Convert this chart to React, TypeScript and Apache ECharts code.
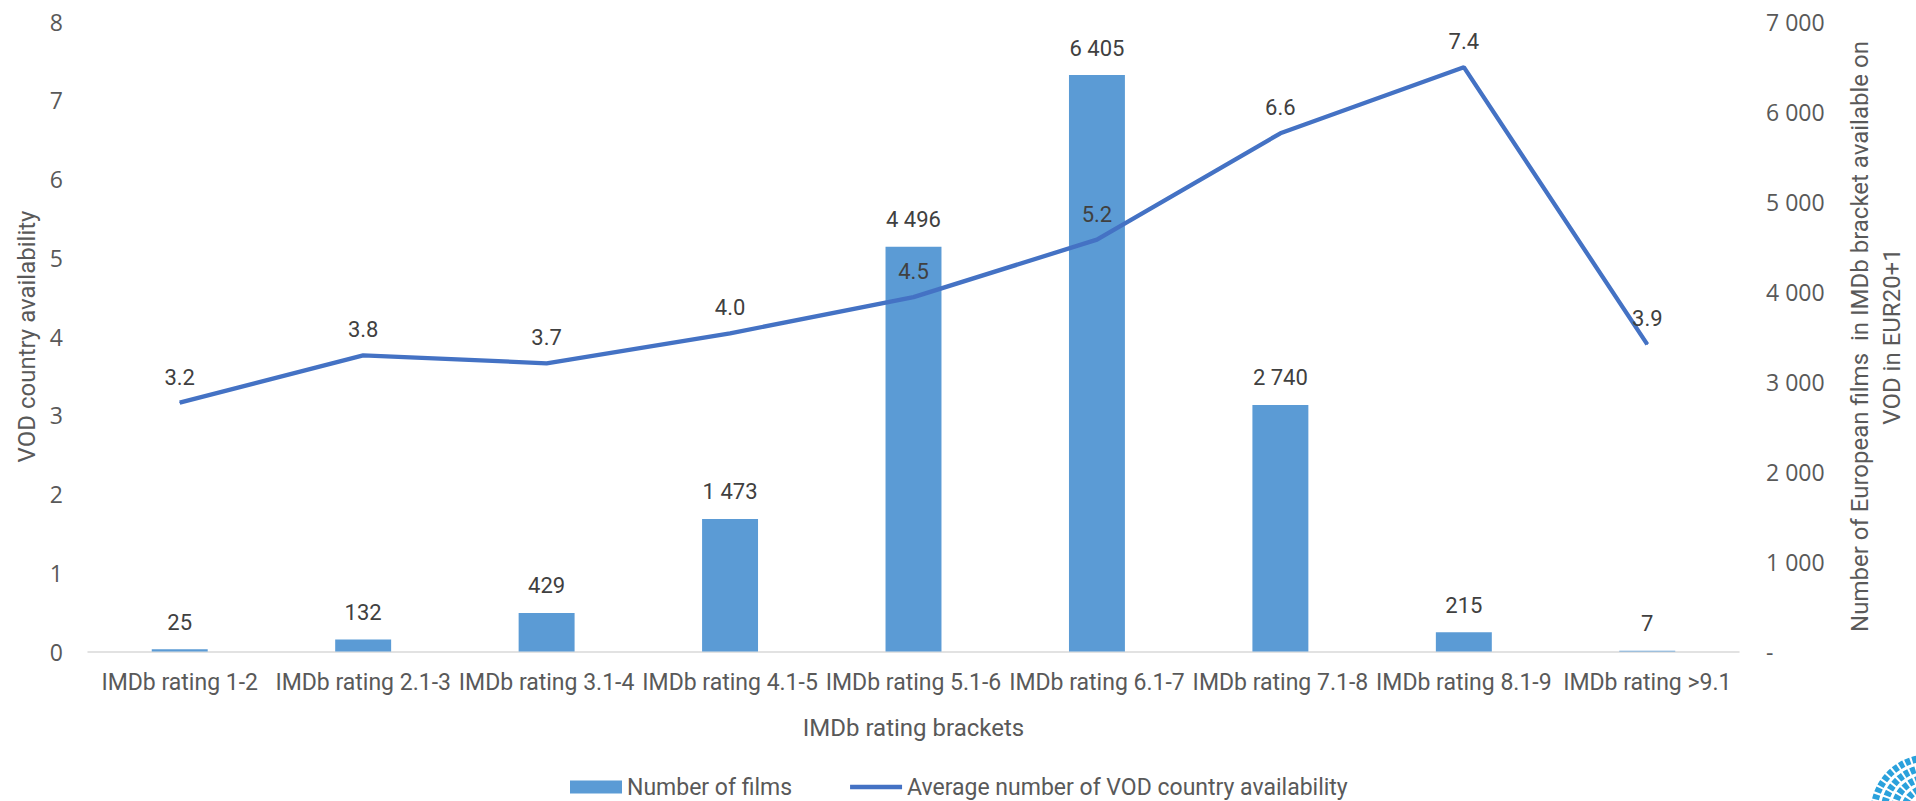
import React, { useEffect, useRef } from "react";
import * as echarts from "echarts";

const categories = [
  "IMDb rating 1-2",
  "IMDb rating 2.1-3",
  "IMDb rating 3.1-4",
  "IMDb rating 4.1-5",
  "IMDb rating 5.1-6",
  "IMDb rating 6.1-7",
  "IMDb rating 7.1-8",
  "IMDb rating 8.1-9",
  "IMDb rating >9.1",
];
const filmCounts = [25, 132, 429, 1473, 4496, 6405, 2740, 215, 7];
const vodAvailability = [3.16, 3.76, 3.66, 4.04, 4.5, 5.23, 6.58, 7.42, 3.9];
const leftTicks = { min: 0, max: 8, interval: 1 };
const rightTicks = { min: 0, max: 7000, interval: 1000 };
const logoRings = [54, 44, 34, 24];

const fmtSpace = (v: number) =>
  v === 0 ? "-" : String(Math.round(v)).replace(/\B(?=(\d{3})+(?!\d))/g, " ");

const TXT = "Roboto, 'Noto Sans', sans-serif";
const TICK = "'Open Sans', 'Noto Sans', sans-serif";

export default function App() {
  const ref = useRef<HTMLDivElement>(null);
  useEffect(() => {
    document.body.style.margin = "0";
    if (!ref.current) return;
    const chart = echarts.init(ref.current, undefined, { renderer: "svg" });
    chart.setOption({
      animation: false,
      backgroundColor: "#ffffff",
      grid: { left: 88, right: 177, top: 21.5, bottom: 149.5 },
      legend: {
        left: 570,
        top: 775,
        padding: 0,
        itemWidth: 52,
        itemHeight: 13,
        itemGap: 58,
        textStyle: { fontFamily: TXT, fontSize: 23, lineHeight: 24, color: "#595959" },
        data: [
          { name: "Number of films", icon: "rect" },
          {
            name: "Average number of VOD country availability",
            icon: "path://M0,0L56,0L56,5L0,5Z",
          },
        ],
      },
      xAxis: {
        type: "category",
        data: categories,
        name: "IMDb rating brackets",
        nameLocation: "middle",
        nameGap: 64,
        nameTextStyle: { fontFamily: TXT, fontSize: 24, color: "#595959" },
        axisLine: { lineStyle: { color: "#D9D9D9", width: 1.5 } },
        axisTick: { show: false },
        axisLabel: {
          interval: 0,
          margin: 19,
          fontFamily: TXT,
          fontSize: 23,
          color: "#595959",
        },
      },
      yAxis: [
        {
          type: "value",
          ...leftTicks,
          position: "left",
          name: "VOD country availability",
          nameLocation: "middle",
          nameGap: 44,
          nameTextStyle: { fontFamily: TXT, fontSize: 24, color: "#595959" },
          axisLine: { show: false },
          axisTick: { show: false },
          splitLine: { show: false },
          axisLabel: { margin: 25, fontFamily: TICK, fontSize: 23, color: "#595959" },
        },
        {
          type: "value",
          ...rightTicks,
          position: "right",
          name: "Number of European films  in IMDb bracket available on\nVOD in EUR20+1",
          nameLocation: "middle",
          nameGap: 105,
          nameTextStyle: {
            fontFamily: TXT,
            fontSize: 24,
            lineHeight: 32,
            color: "#595959",
            align: "center",
          },
          axisLine: { show: false },
          axisTick: { show: false },
          splitLine: { show: false },
          axisLabel: {
            margin: 27,
            align: "left",
            fontFamily: TICK,
            fontSize: 23,
            color: "#595959",
            formatter: (v: number) => fmtSpace(v),
          },
        },
      ],
      series: [
        {
          name: "Number of films",
          type: "bar",
          yAxisIndex: 1,
          data: filmCounts,
          barWidth: "30.5%",
          itemStyle: { color: "#5B9BD5" },
          label: {
            show: true,
            position: "top",
            distance: 16,
            fontFamily: TXT,
            fontSize: 22,
            color: "#404040",
            formatter: (p: any) => fmtSpace(p.value),
          },
          z: 2,
        },
        {
          name: "Average number of VOD country availability",
          type: "line",
          yAxisIndex: 0,
          data: vodAvailability,
          symbol: "circle",
          symbolSize: 1,
          showSymbol: true,
          lineStyle: { color: "#4472C4", width: 4.3 },
          itemStyle: { color: "#4472C4" },
          label: {
            show: true,
            position: "top",
            distance: 14,
            fontFamily: TXT,
            fontSize: 22,
            color: "#404040",
            formatter: (p: any) => Number(p.value).toFixed(1),
          },
          z: 3,
        },
      ],
      graphic: logoRings.map((r) => ({
        type: "circle",
        silent: true,
        shape: { cx: 1928, cy: 812, r },
        style: { fill: "none", stroke: "#2AA1DC", lineWidth: 7, lineDash: [5, 2] },
      })),
    });
    return () => chart.dispose();
  }, []);
  return <div ref={ref} style={{ width: 1916, height: 801 }} />;
}
